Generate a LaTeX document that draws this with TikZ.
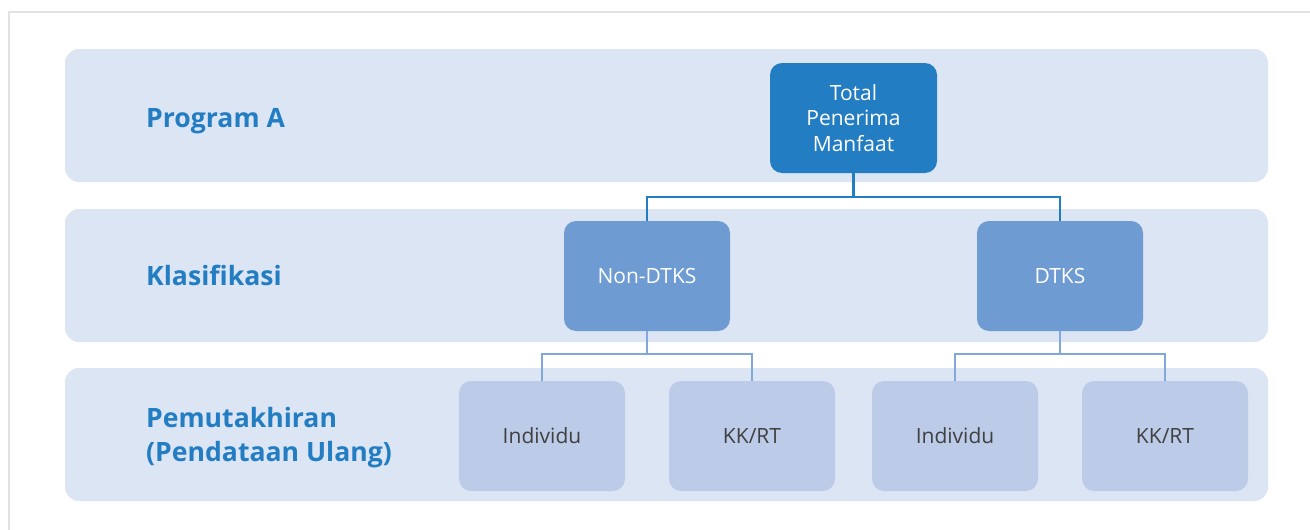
\documentclass[tikz,border=0pt]{standalone}
\usepackage{fontspec}
\setmainfont{Open Sans}
\definecolor{bandc}{HTML}{DCE5F3}
\definecolor{topc}{HTML}{237DC3}
\definecolor{midc}{HTML}{6D9BD2}
\definecolor{lowc}{HTML}{BCCBE8}
\definecolor{connb}{HTML}{80A8DB}
\definecolor{framec}{HTML}{E2E2E2}
\definecolor{lowtext}{HTML}{404040}
\tikzset{
  band/.style={fill=bandc, draw=none, rounded corners=14pt, minimum width=1203pt, minimum height=133pt, inner sep=0pt},
  topbox/.style={fill=topc, draw=none, rounded corners=12pt, minimum width=167pt, minimum height=110pt, inner sep=0pt, text=white, align=center, font=\fontsize{21}{25.5}\selectfont},
  midbox/.style={fill=midc, draw=none, rounded corners=12pt, minimum width=166pt, minimum height=110pt, inner sep=0pt, text=white, font=\fontsize{21}{25.5}\selectfont},
  lowbox/.style={fill=lowc, draw=none, rounded corners=12pt, minimum width=166pt, minimum height=110pt, inner sep=0pt, text=lowtext, font=\fontsize{21}{25.5}\selectfont},
  rowlabel/.style={anchor=base west, text=topc, align=left, inner sep=0pt, font=\bfseries\fontsize{26.6}{34}\selectfont},
  connA/.style={draw=topc, line width=2.5pt},
  connB/.style={draw=connb, line width=2.5pt}
}
\begin{document}
\begin{tikzpicture}[x=1pt,y=-1pt]
\useasboundingbox (0,0) rectangle (1310,530);
\fill[white] (0,0) rectangle (1310,530);
\draw[framec, line width=2pt] (9,530) -- (9,12) -- (1310,12);
\node[band] (b1) at (666.5,115.5) {};
\node[band] (b2) at (666.5,275.5) {};
\node[band] (b3) at (666.5,434.5) {};
\node[rowlabel] (l1) at (146,127) {Program A};
\node[rowlabel] (l2) at (146,285.5) {Klasifikasi};
\node[rowlabel] (l3) at (146,461.5) {Pemutakhiran\\(Pendataan Ulang)};
\node[topbox] (tot) at (853.5,118) {Total\\Penerima\\Manfaat};
\node[midbox] (nd) at (647,276) {Non-DTKS};
\node[midbox] (dt) at (1060,276) {DTKS};
\node[lowbox] (i1) at (542,436) {Individu};
\node[lowbox] (k1) at (752,436) {KK/RT};
\node[lowbox] (i2) at (955,436) {Individu};
\node[lowbox] (k2) at (1165,436) {KK/RT};
\draw[connA] (tot.south) -- ++(0,24) coordinate (j0) -| (nd.north);
\draw[connA] (j0) -| (dt.north);
\draw[connB] (nd.south) -- ++(0,23) coordinate (j1) -| (i1.north);
\draw[connB] (j1) -| (k1.north);
\draw[connB] (dt.south) -- ++(0,23) coordinate (j2) -| (i2.north);
\draw[connB] (j2) -| (k2.north);
\end{tikzpicture}
\end{document}
